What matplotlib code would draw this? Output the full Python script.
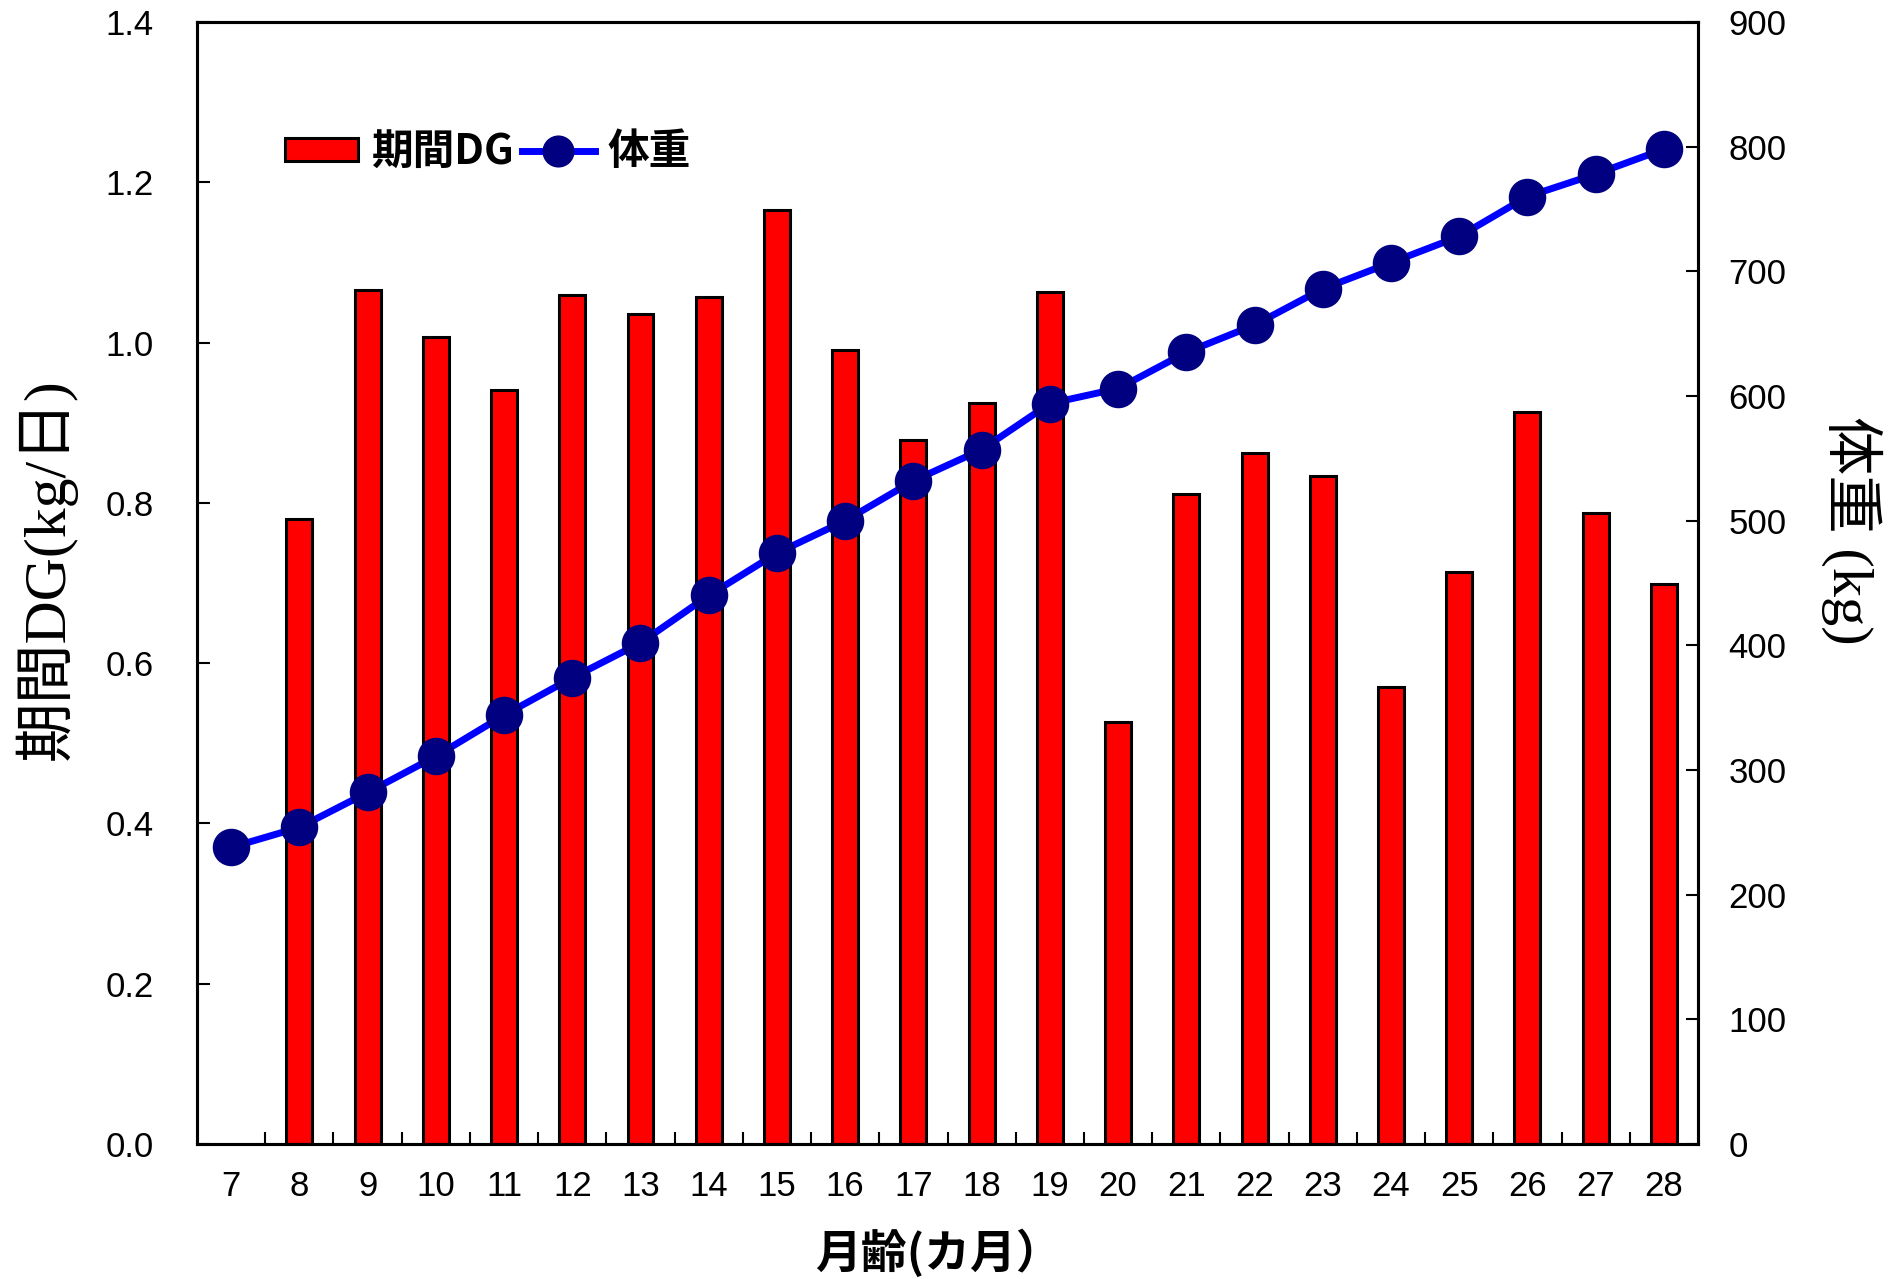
import matplotlib
matplotlib.use("Agg")
import matplotlib.pyplot as plt
import numpy as np
from matplotlib.ticker import FixedLocator, FormatStrFormatter

plt.rcParams['font.family'] = ['Liberation Sans', 'Noto Sans CJK JP']

months = [7, 8, 9, 10, 11, 12, 13, 14, 15, 16, 17, 18, 19, 20, 21, 22, 23, 24, 25, 26, 27, 28]
period_dg = [np.nan, 0.78, 1.066, 1.007, 0.941, 1.060, 1.036, 1.057, 1.165, 0.991, 0.878,
             0.925, 1.063, 0.526, 0.811, 0.862, 0.833, 0.570, 0.714, 0.913, 0.788, 0.699]
body_weight = [238, 254, 282, 311, 344, 374, 402, 440, 474, 500, 532, 557, 594, 606, 635,
               657, 686, 707, 728, 760, 778, 798]

label_dg = '期間DG'
label_bw = '体重'
ylabel_left = '期間DG(kg/日)'
ylabel_right = '体重 (kg)'
xlabel = '月齢(カ月）'

fig = plt.figure(figsize=(18.89, 12.79), dpi=100)
ax = fig.add_axes([0.1043, 0.1055, 0.7946, 0.8773])
x = np.arange(len(months))

bars = ax.bar(x, period_dg, width=0.38, color='#FF0000', edgecolor='black', linewidth=2.2,
              label=label_dg, zorder=2)
ax.set_xlim(-0.5, len(months) - 0.5)
ax.set_ylim(0, 1.4)
ax.set_yticks(np.arange(0, 1.41, 0.2))
ax.yaxis.set_major_formatter(FormatStrFormatter('%.1f'))
ax.set_xticks(x)
ax.set_xticklabels([str(m) for m in months])
ax.xaxis.set_minor_locator(FixedLocator(np.arange(0.5, len(months) - 1, 1.0)))
ax.tick_params(axis='x', which='major', length=0, pad=19, labelsize=25)
ax.tick_params(axis='x', which='minor', direction='in', length=9, width=1.5)
ax.tick_params(axis='y', direction='in', length=9, width=1.5, pad=31, labelsize=25)
for s in ax.spines.values():
    s.set_linewidth(2.2)

ax2 = ax.twinx()
line, = ax2.plot(x, body_weight, color='#0000FF', linewidth=5, marker='o',
                 markersize=26, markerfacecolor='#000080', markeredgecolor='#000080',
                 label=label_bw, zorder=3)
ax2.set_ylim(0, 900)
ax2.set_yticks(np.arange(0, 901, 100))
ax2.tick_params(axis='y', direction='in', length=9, width=1.5, pad=22, labelsize=25)
for s in ax2.spines.values():
    s.set_linewidth(2.2)

fig.text(0.024, 0.555, ylabel_left, rotation=90, ha='center', va='center', fontsize=43,
         family=['Liberation Serif', 'Noto Sans CJK JP'])
fig.text(0.980, 0.585, ylabel_right, rotation=270, ha='center', va='center', fontsize=42,
         family=['Liberation Serif', 'Noto Sans CJK JP'])
fig.text(0.497, 0.020, xlabel, ha='center', va='center', fontsize=33, fontweight='bold',
         family=['Noto Sans CJK JP'])

leg = fig.legend([bars, line], [label_dg, label_bw], loc='center left',
                 bbox_to_anchor=(0.151, 0.881), ncol=2, frameon=False,
                 prop={'family': ['Noto Sans CJK JP'], 'weight': 'bold', 'size': 30},
                 handlelength=1.75, handleheight=0.5, handletextpad=0.3, columnspacing=0.2,
                 borderpad=0, borderaxespad=0, markerscale=0.85)

fig.savefig('out.png', dpi=100)
